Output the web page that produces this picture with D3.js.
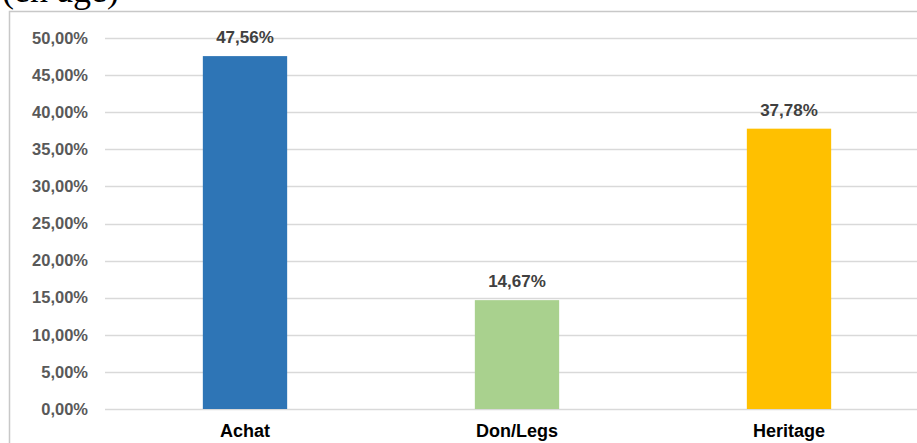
<!DOCTYPE html>
<html><head><meta charset="utf-8">
<script src="https://cdn.jsdelivr.net/npm/d3@7"></script>
<style>html,body{margin:0;padding:0;background:#fff;overflow:hidden}</style>
</head><body>
<svg id="c" width="917" height="443"></svg>
<script>
const categories = ["Achat", "Don/Legs", "Heritage"];
const values = [47.56, 14.67, 37.78];
const valueLabels = ["47,56%", "14,67%", "37,78%"];
const colors = ["#2E75B6", "#A9D18E", "#FFC000"];
const yTicks = [0, 5, 10, 15, 20, 25, 30, 35, 40, 45, 50];

const svg = d3.select("#c");
// partial title cut off at top (as in the reference)
svg.append("text").attr("x", 2).attr("y", 2)
  .attr("font-family", "Liberation Serif, Times New Roman, serif")
  .attr("font-size", 36).attr("fill", "#000").text("(en âge)");

// frame
svg.append("rect").attr("x", 9.5).attr("y", 11.5).attr("width", 920).attr("height", 450)
  .attr("fill", "#fff").attr("stroke", "#c8c8c8").attr("stroke-width", 1.5);

const x = d3.scaleBand().domain(categories).range([109, 925]).paddingInner(0.69).paddingOuter(0.345);
const y = d3.scaleLinear().domain([0, 50]).range([409, 38]);

const grid = svg.append("g");
grid.selectAll("line").data(yTicks).join("line")
  .attr("x1", 105).attr("x2", 917)
  .attr("y1", d => Math.round(y(d)) + 0.5).attr("y2", d => Math.round(y(d)) + 0.5)
  .attr("stroke", "#d9d9d9").attr("stroke-width", 1.3);

const yAxis = d3.axisLeft(y).tickValues(yTicks).tickSize(0).tickPadding(0)
  .tickFormat(d => d3.format(".2f")(d).replace(".", ",") + "%");
const ya = svg.append("g").attr("transform", "translate(88,0)").call(yAxis);
ya.select(".domain").remove();
ya.selectAll("text").attr("font-family", "Liberation Sans, Arial, sans-serif")
  .attr("font-size", 16.5).attr("font-weight", "bold").attr("fill", "#595959");

svg.append("g").selectAll("rect").data(values).join("rect")
  .attr("x", (d, i) => x(categories[i]))
  .attr("width", x.bandwidth())
  .attr("y", d => y(d))
  .attr("height", d => y(0) - y(d))
  .attr("fill", (d, i) => colors[i]);

svg.append("g").selectAll("text").data(values).join("text")
  .attr("x", (d, i) => x(categories[i]) + x.bandwidth() / 2)
  .attr("y", d => y(d) - 13)
  .attr("text-anchor", "middle")
  .attr("font-family", "Liberation Sans, Arial, sans-serif")
  .attr("font-size", 17).attr("font-weight", "bold").attr("fill", "#404040")
  .text((d, i) => valueLabels[i]);

const xAxis = d3.axisBottom(x).tickSize(0).tickPadding(0);
const xa = svg.append("g").attr("transform", "translate(0,409)").call(xAxis);
xa.select(".domain").remove();
xa.selectAll("text").attr("dy", null).attr("y", 28)
  .attr("font-family", "Liberation Sans, Arial, sans-serif")
  .attr("font-size", 18).attr("font-weight", "bold").attr("fill", "#000");
</script>
</body></html>
